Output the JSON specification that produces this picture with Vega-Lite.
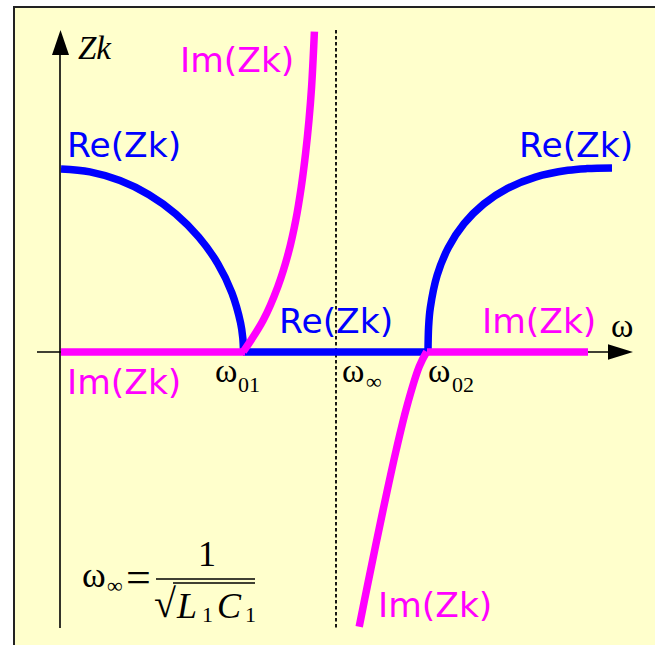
{
  "$schema": "https://vega.github.io/schema/vega-lite/v6.json",
  "width": 655,
  "height": 645,
  "autosize": "none",
  "padding": 0,
  "background": "white",
  "config": {"view": {"stroke": null}},
  "datasets": {
    "curves": [
      {"seg": "reL", "part": "Re", "x": 1, "y": 183},
      {"seg": "reL", "part": "Re", "x": 29.9, "y": 180.1},
      {"seg": "reL", "part": "Re", "x": 60, "y": 171.4},
      {"seg": "reL", "part": "Re", "x": 89, "y": 157.3},
      {"seg": "reL", "part": "Re", "x": 115.6, "y": 138.2},
      {"seg": "reL", "part": "Re", "x": 138.8, "y": 114.9},
      {"seg": "reL", "part": "Re", "x": 157.9, "y": 88.2},
      {"seg": "reL", "part": "Re", "x": 171.9, "y": 59.2},
      {"seg": "reL", "part": "Re", "x": 180.6, "y": 29},
      {"seg": "reL", "part": "Re", "x": 182.8, "y": 14},
      {"seg": "reL", "part": "Re", "x": 183.5, "y": 0},
      {"seg": "reM", "part": "Re", "x": 183, "y": 0},
      {"seg": "reM", "part": "Re", "x": 368, "y": 0},
      {"seg": "reR", "part": "Re", "x": 368, "y": 0},
      {"seg": "reR", "part": "Re", "x": 368.6, "y": 25.1},
      {"seg": "reR", "part": "Re", "x": 370.3, "y": 44.1},
      {"seg": "reR", "part": "Re", "x": 377.1, "y": 76.6},
      {"seg": "reR", "part": "Re", "x": 388.4, "y": 104.5},
      {"seg": "reR", "part": "Re", "x": 404, "y": 128.3},
      {"seg": "reR", "part": "Re", "x": 423.7, "y": 148},
      {"seg": "reR", "part": "Re", "x": 447.5, "y": 163.6},
      {"seg": "reR", "part": "Re", "x": 475.4, "y": 174.9},
      {"seg": "reR", "part": "Re", "x": 507.9, "y": 181.7},
      {"seg": "reR", "part": "Re", "x": 526.9, "y": 183.4},
      {"seg": "reR", "part": "Re", "x": 552, "y": 184},
      {"seg": "imL", "part": "Im", "x": 1, "y": 0},
      {"seg": "imL", "part": "Im", "x": 185, "y": 0},
      {"seg": "imR", "part": "Im", "x": 367, "y": 0},
      {"seg": "imR", "part": "Im", "x": 528, "y": 0},
      {"seg": "im1", "part": "Im", "x": 183.3, "y": 0.3},
      {"seg": "im1", "part": "Im", "x": 203.3, "y": 32},
      {"seg": "im1", "part": "Im", "x": 217.8, "y": 65.3},
      {"seg": "im1", "part": "Im", "x": 228.3, "y": 98.7},
      {"seg": "im1", "part": "Im", "x": 235.8, "y": 132},
      {"seg": "im1", "part": "Im", "x": 241.3, "y": 165.3},
      {"seg": "im1", "part": "Im", "x": 245.6, "y": 198.7},
      {"seg": "im1", "part": "Im", "x": 249, "y": 232},
      {"seg": "im1", "part": "Im", "x": 251.6, "y": 265.3},
      {"seg": "im1", "part": "Im", "x": 253.4, "y": 298.7},
      {"seg": "im1", "part": "Im", "x": 254.4, "y": 320.3},
      {"seg": "im2", "part": "Im", "x": 299.2, "y": -274.7},
      {"seg": "im2", "part": "Im", "x": 307.2, "y": -234.7},
      {"seg": "im2", "part": "Im", "x": 316.1, "y": -191.3},
      {"seg": "im2", "part": "Im", "x": 325.9, "y": -144.7},
      {"seg": "im2", "part": "Im", "x": 336.2, "y": -98},
      {"seg": "im2", "part": "Im", "x": 346.8, "y": -54.7},
      {"seg": "im2", "part": "Im", "x": 359.2, "y": -14.7},
      {"seg": "im2", "part": "Im", "x": 366.7, "y": 0.3}
    ]
  },
  "encoding": {
    "x": {"field": "x", "type": "quantitative", "scale": {"domain": [-60, 595], "nice": false, "zero": false}, "axis": null},
    "y": {"field": "y", "type": "quantitative", "scale": {"domain": [-293, 352], "nice": false, "zero": false}, "axis": null}
  },
  "layer": [
    {
      "data": {"values": [{"x": -46, "x2": 600, "y": 345, "y2": -300}]},
      "mark": {"type": "rect", "fill": "#FFFFCC", "stroke": "#222222", "strokeWidth": 2},
      "encoding": {"x2": {"field": "x2"}, "y2": {"field": "y2"}}
    },
    {
      "data": {"values": [
        {"x": 0, "y": -276, "x2": 0, "y2": 307},
        {"x": -23, "y": 0, "x2": 552, "y2": 0}
      ]},
      "mark": {"type": "rule", "color": "#000000", "strokeWidth": 1.6},
      "encoding": {"x2": {"field": "x2"}, "y2": {"field": "y2"}}
    },
    {
      "data": {"values": [{"x": 276, "y": 322, "x2": 276, "y2": -276}]},
      "mark": {"type": "rule", "color": "#000000", "strokeWidth": 1.8, "strokeDash": [3.5, 2.5]},
      "encoding": {"x2": {"field": "x2"}, "y2": {"field": "y2"}}
    },
    {
      "data": {"values": [{"x": 0.5, "y": 309.5}]},
      "mark": {"type": "point", "shape": "M0,-1L0.68,1L-0.68,1Z", "size": 625, "filled": true, "color": "#000000", "opacity": 1}
    },
    {
      "data": {"values": [{"x": 560.5, "y": 0}]},
      "mark": {"type": "point", "shape": "M1,0L-1,-0.62L-1,0.62Z", "size": 625, "filled": true, "color": "#000000", "opacity": 1}
    },
    {
      "data": {"name": "curves"},
      "transform": [{"filter": "datum.part === 'Re'"}],
      "mark": {"type": "line", "interpolate": "catmull-rom", "strokeWidth": 7.5, "strokeCap": "butt", "color": "#0000FF"},
      "encoding": {"detail": {"field": "seg"}}
    },
    {
      "data": {"name": "curves"},
      "transform": [{"filter": "datum.part === 'Im'"}],
      "mark": {"type": "line", "interpolate": "catmull-rom", "strokeWidth": 7.5, "strokeCap": "butt", "color": "#FF00FF"},
      "encoding": {"detail": {"field": "seg"}}
    },
    {
      "data": {"values": [
        {"label": "Im(Zk)", "part": "Im", "x": 120, "y": 280},
        {"label": "Re(Zk)", "part": "Re", "x": 7, "y": 195},
        {"label": "Re(Zk)", "part": "Re", "x": 219, "y": 19},
        {"label": "Im(Zk)", "part": "Im", "x": 422, "y": 19},
        {"label": "Re(Zk)", "part": "Re", "x": 459, "y": 195},
        {"label": "Im(Zk)", "part": "Im", "x": 7, "y": -42},
        {"label": "Im(Zk)", "part": "Im", "x": 318, "y": -265}
      ]},
      "mark": {"type": "text", "font": "DejaVu Sans", "fontSize": 34.5, "align": "left", "baseline": "alphabetic"},
      "encoding": {
        "text": {"field": "label"},
        "color": {"field": "part", "type": "nominal", "scale": {"domain": ["Re", "Im"], "range": ["#0000FF", "#FF00FF"]}, "legend": null}
      }
    },
    {
      "data": {"values": [
        {"label": "ω", "x": 155, "y": -30},
        {"label": "ω", "x": 282, "y": -30},
        {"label": "ω", "x": 368, "y": -30},
        {"label": "ω", "x": 551, "y": 15}
      ]},
      "mark": {"type": "text", "font": "Liberation Serif", "fontSize": 34, "align": "left", "baseline": "alphabetic", "color": "#000000"},
      "encoding": {"text": {"field": "label"}}
    },
    {
      "data": {"values": [
        {"label": "01", "x": 178, "y": -40},
        {"label": "02", "x": 392, "y": -40},
        {"label": "∞", "x": 306, "y": -37},
        {"label": "∞", "x": 47, "y": -241}
      ]},
      "mark": {"type": "text", "font": "Liberation Serif", "fontSize": 22, "align": "left", "baseline": "alphabetic", "color": "#000000"},
      "encoding": {"text": {"field": "label"}}
    },
    {
      "data": {"values": [
        {"label": "ω", "x": 22, "y": -235},
        {"label": "1", "x": 138, "y": -214}
      ]},
      "mark": {"type": "text", "font": "Liberation Serif", "fontSize": 36, "align": "left", "baseline": "alphabetic", "color": "#000000"},
      "encoding": {"text": {"field": "label"}}
    },
    {
      "data": {"values": [
        {"label": "=", "x": 66, "y": -240}
      ]},
      "mark": {"type": "text", "font": "Liberation Serif", "fontSize": 44, "align": "left", "baseline": "alphabetic", "color": "#000000"},
      "encoding": {"text": {"field": "label"}}
    },
    {
      "data": {"values": [
        {"label": "√", "x": 94, "y": -265}
      ]},
      "mark": {"type": "text", "font": "Liberation Serif", "fontSize": 40, "align": "left", "baseline": "alphabetic", "color": "#000000"},
      "encoding": {"text": {"field": "label"}}
    },
    {
      "data": {"values": [
        {"label": "L", "x": 117, "y": -266},
        {"label": "C", "x": 157, "y": -266}
      ]},
      "mark": {"type": "text", "font": "Liberation Serif", "fontSize": 36, "fontStyle": "italic", "align": "left", "baseline": "alphabetic", "color": "#000000"},
      "encoding": {"text": {"field": "label"}}
    },
    {
      "data": {"values": [
        {"label": "Zk", "x": 18, "y": 293}
      ]},
      "mark": {"type": "text", "font": "Liberation Serif", "fontSize": 33, "fontStyle": "italic", "align": "left", "baseline": "alphabetic", "color": "#000000"},
      "encoding": {"text": {"field": "label"}}
    },
    {
      "data": {"values": [
        {"label": "1", "x": 142, "y": -270},
        {"label": "1", "x": 185, "y": -270}
      ]},
      "mark": {"type": "text", "font": "Liberation Serif", "fontSize": 22, "align": "left", "baseline": "alphabetic", "color": "#000000"},
      "encoding": {"text": {"field": "label"}}
    },
    {
      "data": {"values": [
        {"x": 96, "y": -227, "x2": 195, "y2": -227},
        {"x": 113, "y": -231, "x2": 195, "y2": -231}
      ]},
      "mark": {"type": "rule", "color": "#000000", "strokeWidth": 1.3},
      "encoding": {"x2": {"field": "x2"}, "y2": {"field": "y2"}}
    }
  ]
}
